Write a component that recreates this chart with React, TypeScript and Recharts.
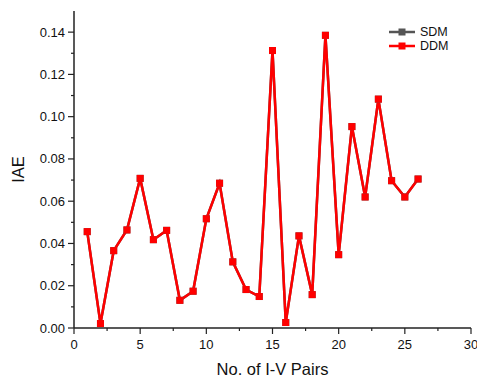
import { Legend, Line, LineChart, XAxis, YAxis } from 'recharts'

const pairs = [1, 2, 3, 4, 5, 6, 7, 8, 9, 10, 11, 12, 13, 14, 15, 16, 17, 18, 19, 20, 21, 22, 23, 24, 25, 26]
const ddm = [
  0.0456, 0.0021, 0.0366, 0.0464, 0.0708, 0.0418, 0.0462, 0.0131, 0.0174, 0.0517, 0.0685, 0.0313, 0.0182,
  0.0149, 0.1313, 0.0026, 0.0436, 0.0158, 0.1385, 0.0347, 0.0953, 0.062, 0.1083, 0.0697, 0.062, 0.0705,
]
const sdm = [
  0.0456, 0.0021, 0.0366, 0.0464, 0.0708, 0.0418, 0.0462, 0.0131, 0.0174, 0.0517, 0.0685, 0.0313, 0.0182,
  0.0149, 0.1313, 0.0026, 0.0436, 0.0158, 0.1385, 0.0347, 0.0953, 0.062, 0.1083, 0.0697, 0.062, 0.0705,
]
const xTicks = [0, 2.5, 5, 7.5, 10, 12.5, 15, 17.5, 20, 22.5, 25, 27.5, 30]
const yTicks = [0, 0.01, 0.02, 0.03, 0.04, 0.05, 0.06, 0.07, 0.08, 0.09, 0.1, 0.11, 0.12, 0.13, 0.14]
const seriesOrder = ['SDM', 'DDM']

const data = pairs.map((n, i) => ({ n, SDM: sdm[i], DDM: ddm[i] }))

const AXIS = '#222'
const RED = '#ff0000'
const GREY = '#555555'

const isMajorX = (v: number) => v % 5 === 0
const isMajorY = (v: number) => Math.round(v * 100) % 2 === 0

function BottomTick({ x, y, payload }: any) {
  const major = isMajorX(payload.value)
  return (
    <g>
      <line x1={x} x2={x} y1={y} y2={y + (major ? 6 : 3)} stroke={AXIS} strokeWidth={1.2} />
      {major && (
        <text x={x} y={y + 21} textAnchor="middle" fontSize={13} fill="#111">
          {payload.value}
        </text>
      )}
    </g>
  )
}

function TopTick({ x, y, payload }: any) {
  const major = isMajorX(payload.value)
  return <line x1={x} x2={x} y1={y} y2={y + (major ? 6 : 3)} stroke={AXIS} strokeWidth={1.2} />
}

function LeftTick({ x, y, payload }: any) {
  const major = isMajorY(payload.value)
  return (
    <g>
      <line x1={x - (major ? 6 : 3)} x2={x} y1={y} y2={y} stroke={AXIS} strokeWidth={1.2} />
      {major && (
        <text x={x - 9} y={y + 4.5} textAnchor="end" fontSize={13} fill="#111">
          {payload.value.toFixed(2)}
        </text>
      )}
    </g>
  )
}

function RightTick({ x, y, payload }: any) {
  const major = isMajorY(payload.value)
  return <line x1={x - (major ? 6 : 3)} x2={x} y1={y} y2={y} stroke={AXIS} strokeWidth={1.2} />
}

function Square({ cx, cy, fill }: any) {
  if (cx == null || cy == null) return null
  return <rect x={cx - 3.5} y={cy - 3.5} width={7} height={7} fill={fill} />
}

function LegendBox({ payload }: any) {
  const items = [...(payload || [])].sort(
    (a: any, b: any) => seriesOrder.indexOf(a.value) - seriesOrder.indexOf(b.value),
  )
  return (
    <div>
      {items.map((p: any) => (
        <div key={p.value} style={{ display: 'flex', alignItems: 'center', height: 14 }}>
          <svg width={27} height={14}>
            <line x1={0} x2={26} y1={7} y2={7} stroke={p.color} strokeWidth={2.5} />
            <rect x={9.5} y={3.5} width={7} height={7} fill={p.color} />
          </svg>
          <span style={{ marginLeft: 4, fontSize: 12.5, color: '#111', lineHeight: '14px' }}>{p.value}</span>
        </div>
      ))}
    </div>
  )
}

export default function App() {
  return (
    <div style={{ position: 'absolute', left: 0, top: 0, fontFamily: '"Liberation Sans", Arial, sans-serif' }}>
      <LineChart width={477} height={379} data={data} margin={{ top: 11, right: 6, bottom: 0, left: 0 }}>
        <XAxis
          xAxisId="b"
          dataKey="n"
          type="number"
          domain={[0, 30]}
          ticks={xTicks}
          interval={0}
          tickSize={0}
          tickMargin={0}
          tick={<BottomTick />}
          axisLine={{ stroke: AXIS, strokeWidth: 1.5 }}
          height={51}
          label={(props: any) => {
            const vb = props.viewBox
            return (
              <text x={vb.x + vb.width / 2} y={vb.y + 47} textAnchor="middle" fontSize={16.5} fill="#111">
                No. of I-V Pairs
              </text>
            )
          }}
        />
        <XAxis
          xAxisId="t"
          orientation="top"
          dataKey="n"
          type="number"
          domain={[0, 30]}
          ticks={xTicks}
          interval={0}
          tickSize={0}
          tickMargin={0}
          tick={<TopTick />}
          axisLine={{ stroke: AXIS, strokeWidth: 1.5 }}
          height={0}
        />
        <YAxis
          yAxisId="l"
          type="number"
          domain={[0, 0.15]}
          ticks={yTicks}
          interval={0}
          tickSize={0}
          tickMargin={0}
          tick={<LeftTick />}
          axisLine={{ stroke: AXIS, strokeWidth: 1.5 }}
          width={74}
          label={(props: any) => {
            const vb = props.viewBox
            const cx = 24
            const cy = vb.y + vb.height / 2
            return (
              <text x={cx} y={cy} transform={`rotate(-90 ${cx} ${cy})`} textAnchor="middle" fontSize={16.5} fill="#111">
                IAE
              </text>
            )
          }}
        />
        <YAxis
          yAxisId="r"
          orientation="right"
          type="number"
          domain={[0, 0.15]}
          ticks={yTicks}
          interval={0}
          tickSize={0}
          tickMargin={0}
          tick={<RightTick />}
          axisLine={{ stroke: AXIS, strokeWidth: 1.5 }}
          width={0}
        />
        <Legend
          layout="horizontal"
          verticalAlign="middle"
          align="center"
          content={<LegendBox />}
          wrapperStyle={{ position: 'absolute', top: 25, left: 389, width: 80 }}
        />
        <Line
          xAxisId="b"
          yAxisId="l"
          dataKey="SDM"
          name="SDM"
          stroke={GREY}
          strokeWidth={2.5}
          dot={<Square fill={GREY} />}
          activeDot={false}
          isAnimationActive={false}
        />
        <Line
          xAxisId="b"
          yAxisId="l"
          dataKey="DDM"
          name="DDM"
          stroke={RED}
          strokeWidth={2.5}
          dot={<Square fill={RED} />}
          activeDot={false}
          isAnimationActive={false}
        />
      </LineChart>
    </div>
  )
}
